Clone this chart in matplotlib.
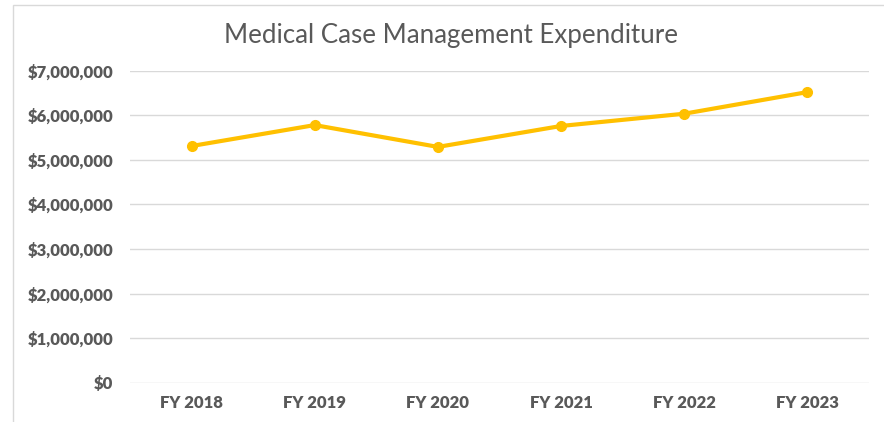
import matplotlib.pyplot as plt
from matplotlib.patches import Rectangle
from matplotlib.ticker import FuncFormatter

# Medical case management expenditure by fiscal year
years = ["FY 2018", "FY 2019", "FY 2020", "FY 2021", "FY 2022", "FY 2023"]
spend = [5310000, 5780000, 5290000, 5760000, 6035000, 6520000]
yticks = [0, 1000000, 2000000, 3000000, 4000000, 5000000, 6000000, 7000000]

plt.rcParams['font.family'] = ['Lato', 'DejaVu Sans']

fig = plt.figure(figsize=(8.84, 4.22), dpi=100)
ax = fig.add_axes([130 / 884, 1 - 382.7 / 422, (869 - 130) / 884, (382.7 - 70.7) / 422])

# chart border (only top and left visible in the crop)
fig.patches.append(Rectangle((12.5 / 884, -0.1), 1.0, 1 - 5.5 / 422 + 0.1,
                             transform=fig.transFigure, fill=False,
                             edgecolor='#d9d9d9', linewidth=1.0))

x = range(len(years))
ax.plot(x, spend, color='#FFC000', linewidth=3, marker='o', markersize=7,
        solid_capstyle='round', zorder=3)

ax.set_xlim(-0.5, len(years) - 0.5)
ax.set_ylim(0, 7000000)
ax.set_yticks(yticks)
ax.yaxis.set_major_formatter(FuncFormatter(lambda v, p: "${:,.0f}".format(v)))
ax.set_xticks(list(x))
ax.set_xticklabels(years)

ax.grid(axis='y', color='#d9d9d9', linewidth=1)
ax.set_axisbelow(True)
for s in ax.spines.values():
    s.set_visible(False)
ax.tick_params(length=0, labelsize=12, labelcolor='#595959')
for lab in ax.get_xticklabels() + ax.get_yticklabels():
    lab.set_fontweight('heavy')
ax.tick_params(axis='x', pad=9)
ax.tick_params(axis='y', pad=12)

fig.text(451 / 884, 1 - 36 / 422, "Medical Case Management Expenditure",
         ha='center', va='center', fontsize=18.6, color='#595959',
         fontweight='normal')

fig.savefig("out.png", dpi=100)
